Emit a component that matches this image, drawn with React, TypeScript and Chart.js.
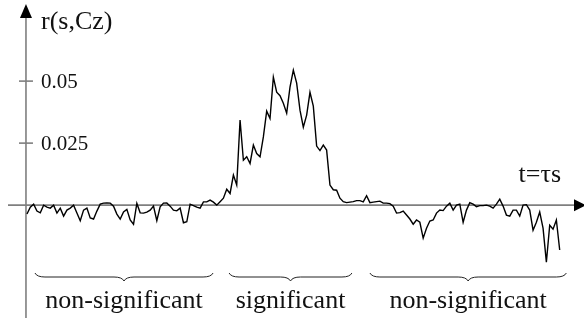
import React, { useEffect, useRef } from "react";
import { Chart, registerables } from "chart.js";

Chart.register(...registerables);

// Correlation r(s,Cz) in units of 1e-3, sampled uniformly in t
const rMilli: number[] = [
  -3.6, -0.8, 0.4, -2.4, -3.1, 0, -0.8, -1.2, 0, -3.2,
  -1.2, -4.4, -2, -1.2, 0, -3.2, -6.3, -2, -1.2, -5.2,
  -5.6, -2.4, 0.4, 0.8, 0.9, 0.8, -0.4, -3.6, -5.6, -2.7,
  -1.7, -6, -7.7, 0.7, -3.1, -3.2, -2.8, -2, -0.4, -6.3,
  -0.7, 0.8, 0.9, -0.4, -2, -2.3, -1.2, -7.1, -6.7, 0.4,
  -0.2, -0.8, -1.2, 1.3, 1.3, 2.0, 1.2, 0, 1.4, 2.8,
  6.4, 4.7, 12.1, 8.1, 34.3, 18.1, 19.5, 16.8, 24.2, 20.8,
  19.5, 27.5, 37.9, 34.9, 51.6, 45.5, 44.1, 41.1, 37.1, 47.6,
  54.4, 49.2, 38.3, 31.4, 36.3, 45.5, 39.9, 23.8, 22.0, 24.2,
  22.2, 8.1, 6.2, 6.0, 2.8, 1.4, 1.0, 1.2, 1.4, 1.8,
  1.8, 1.3, 3.8, 1.0, 1.2, 1.4, 1.6, 0.8, 0.8, 0.6,
  -0.4, -3.2, -3.0, -2.4, -4.0, -5.6, -7.7, -6, -6.9, -13.3,
  -9.3, -6.4, -6, -3.2, -2, -2.2, -0.4, 0.8, -2, 0,
  0.4, -6.9, -2, 1.0, 0.4, -0.6, -0.2, -0.2, 0, -0.4,
  -1.2, 0.4, 2.4, -0.4, -4.0, -4.4, -2, -2, -4.4, 0,
  0.2, -2, -10.1, -6.9, -2.8, -9.3, -23, -8.1, -9.7, -6,
  -18.1,
];
const rValues: number[] = rMilli.map((v) => v / 1000);
const tIndex: number[] = rValues.map((_, i) => i);

const yTickValues: number[] = [0.025, 0.05];
const yTickLabels: string[] = ["0.025", "0.05"];
const yAxisTitle = "r(s,Cz)";
const xAxisTitle = "t=τs";

const groupLabels: string[] = ["non-significant", "significant", "non-significant"];
const groupStarts: number[] = [2.4, 60.7, 103];
const groupEnds: number[] = [55.9, 97.6, 162];

const SERIF = "'Liberation Serif', 'Times New Roman', serif";

const decorPlugin = {
  id: "decor",
  beforeDatasetsDraw(chart: any) {
    const { ctx, scales, width, height } = chart;
    const xs = scales.x;
    const ys = scales.y;
    const x0 = xs.getPixelForValue(-0.3);
    const y0 = ys.getPixelForValue(0);
    ctx.save();
    ctx.strokeStyle = "#7f7f7f";
    ctx.lineWidth = 1.6;
    // x axis
    ctx.beginPath();
    ctx.moveTo(8, y0);
    ctx.lineTo(width - 6, y0);
    ctx.stroke();
    // y axis
    ctx.beginPath();
    ctx.moveTo(x0, 14);
    ctx.lineTo(x0, height);
    ctx.stroke();
    // ticks
    yTickValues.forEach((v) => {
      const py = ys.getPixelForValue(v);
      ctx.beginPath();
      ctx.moveTo(x0 - 7, py);
      ctx.lineTo(x0 + 7, py);
      ctx.stroke();
    });
    // arrows
    ctx.fillStyle = "#000";
    ctx.beginPath();
    ctx.moveTo(x0, 4);
    ctx.lineTo(x0 - 6, 18);
    ctx.lineTo(x0 + 6, 18);
    ctx.closePath();
    ctx.fill();
    ctx.beginPath();
    ctx.moveTo(width + 2, y0);
    ctx.lineTo(width - 10, y0 - 6);
    ctx.lineTo(width - 10, y0 + 6);
    ctx.closePath();
    ctx.fill();
    ctx.restore();
  },
  afterDraw(chart: any) {
    const { ctx, scales } = chart;
    const xs = scales.x;
    const ys = scales.y;
    const x0 = xs.getPixelForValue(-0.3);
    ctx.save();
    ctx.fillStyle = "#111";
    ctx.textBaseline = "middle";
    ctx.textAlign = "left";
    ctx.font = `21px ${SERIF}`;
    yTickValues.forEach((v, i) => {
      const py = ys.getPixelForValue(v);
      ctx.fillText(yTickLabels[i], x0 + 15, py + 1);
    });
    ctx.font = `26px ${SERIF}`;
    ctx.fillText(yAxisTitle, x0 + 15, 22);
    ctx.textAlign = "right";
    ctx.fillText(xAxisTitle, 561, ys.getPixelForValue(0) - 30);

    // braces
    ctx.strokeStyle = "#222";
    ctx.lineWidth = 1;
    const yTop = 273;
    const yFlat = 277;
    const yTip = 281;
    ctx.font = `26px ${SERIF}`;
    ctx.textAlign = "center";
    groupLabels.forEach((lab, i) => {
      const a = xs.getPixelForValue(groupStarts[i]);
      const b = xs.getPixelForValue(groupEnds[i]);
      const m = (a + b) / 2;
      const r = 10;
      ctx.beginPath();
      ctx.moveTo(a, yTop);
      ctx.quadraticCurveTo(a + 2, yFlat, a + r, yFlat);
      ctx.lineTo(m - r, yFlat);
      ctx.quadraticCurveTo(m - 2, yFlat, m, yTip);
      ctx.quadraticCurveTo(m + 2, yFlat, m + r, yFlat);
      ctx.lineTo(b - r, yFlat);
      ctx.quadraticCurveTo(b - 2, yFlat, b, yTop);
      ctx.stroke();
      ctx.fillText(lab, m, 301);
    });
    ctx.restore();
  },
};

export default function App() {
  const canvasRef = useRef<HTMLCanvasElement | null>(null);

  useEffect(() => {
    if (!canvasRef.current) return;
    const chart = new Chart(canvasRef.current, {
      type: "line",
      data: {
        labels: tIndex,
        datasets: [
          {
            data: tIndex.map((t, i) => ({ x: t, y: rValues[i] })),
            borderColor: "#000",
            borderWidth: 1.4,
            pointRadius: 0,
            tension: 0,
            fill: false,
          },
        ],
      },
      options: {
        animation: false,
        responsive: false,
        maintainAspectRatio: false,
        layout: { padding: 0 },
        plugins: {
          legend: { display: false },
          tooltip: { enabled: false },
          title: { display: false },
        },
        scales: {
          x: { type: "linear", min: -8.1, max: 167.3, display: false },
          y: { type: "linear", min: -0.0455, max: 0.0827, display: false },
        },
      },
      plugins: [decorPlugin],
    });
    return () => chart.destroy();
  }, []);

  return (
    <div style={{ position: "fixed", left: 0, top: 0, width: 584, height: 318, background: "#fff" }}>
      <canvas ref={canvasRef} width={584} height={318} style={{ width: 584, height: 318 }} />
    </div>
  );
}
